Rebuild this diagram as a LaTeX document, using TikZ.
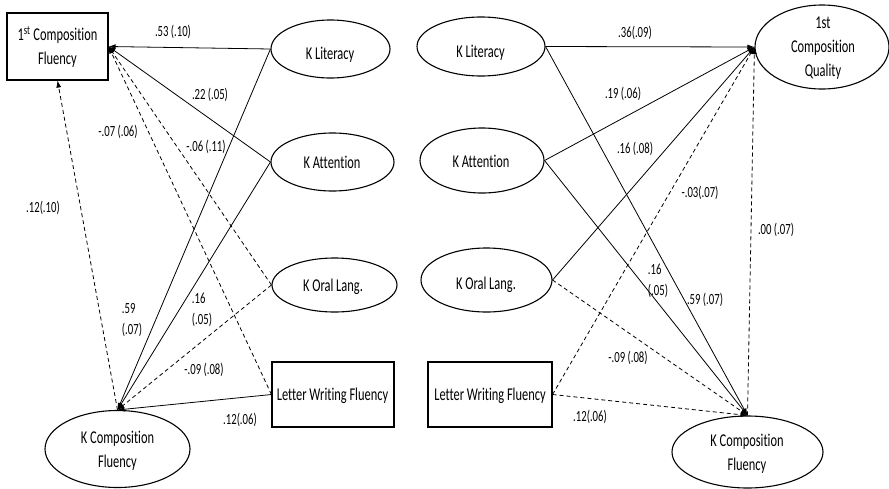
\documentclass[tikz,border=0pt]{standalone}
\usepackage{fontspec}
\setmainfont[FakeStretch=0.69,Ligatures=NoCommon]{Carlito}
\usetikzlibrary{shapes.geometric,arrows.meta}
\begin{document}
\begin{tikzpicture}[x=1pt,y=-1pt,
  ell/.style={draw,ellipse,line width=1.1pt,inner sep=0pt},
  rbox/.style={draw,rectangle,line width=1.1pt,inner sep=0pt},
  txt/.style={font=\fontsize{18}{24}\selectfont,align=center,inner sep=0pt},
  lbl/.style={font=\fontsize{15.5}{21}\selectfont,align=left,inner sep=0pt},
  con/.style={line width=0.8pt,-{Latex[length=7pt,width=5pt]}},
  dcon/.style={con,dash pattern=on 4pt off 3pt},
]
\useasboundingbox (0,0) rectangle (889,488);

% ---- left panel ----
\node[rbox,minimum width=101pt,minimum height=67pt] (cfL) at (57.5,46.5) {};
\node[txt] (cfLt) at (57.5,47) {1\textsuperscript{st} Composition\\Fluency};
\node[ell,minimum width=119pt,minimum height=58pt] (litL) at (330.5,49) {};
\node[txt] (litLt) at (330,55) {K Literacy};
\node[ell,minimum width=123pt,minimum height=58pt] (attL) at (332.5,162) {};
\node[txt] (attLt) at (332,162) {K Attention};
\node[ell,minimum width=125pt,minimum height=54pt] (oralL) at (334.5,285) {};
\node[txt] (oralLt) at (333,287) {K Oral Lang.};
\node[rbox,minimum width=122pt,minimum height=65pt] (lwfL) at (333,394.5) {};
\node[txt] (lwfLt) at (332.5,396) {Letter Writing Fluency};
\node[ell,minimum width=145pt,minimum height=77pt] (kcfL) at (117.5,449) {};
\node[txt] (kcfLt) at (117.5,451) {K Composition\\Fluency};

\draw[con] (litL.west) -- (cfL.east);
\draw[con] (attL.west) -- (cfL.east);
\draw[dcon] (oralL.west) -- (cfL.east);
\draw[dcon] (lwfL.west) -- (cfL.east);
\draw[con] (litL.west) -- (kcfL.north);
\draw[con] (attL.west) -- (kcfL.north);
\draw[dcon] (oralL.west) -- (kcfL.north);
\draw[con] (lwfL.west) -- (kcfL.north);
\draw[dcon] (kcfL.north) -- (cfL.south);

\node[lbl] (a1) at (173,32) {.53 (.10)};
\node[lbl] (a2) at (210,95) {.22 (.05)};
\node[lbl] (a3) at (118,132) {-.07 (.06)};
\node[lbl] (a4) at (206,147) {-.06 (.11)};
\node[lbl] (a5) at (43,208) {.12(.10)};
\node[lbl] (a6) at (132,320) {.59\\(.07)};
\node[lbl] (a7) at (202,310) {.16\\(.05)};
\node[lbl] (a8) at (204,370) {-.09 (.08)};
\node[lbl] (a9) at (240,420) {.12(.06)};

% ---- right panel ----
\node[ell,minimum width=134pt,minimum height=84pt] (cq) at (822,47) {};
\node[txt] (cqt) at (823,48) {1st\\Composition\\Quality};
\node[ell,minimum width=128pt,minimum height=59pt] (litR) at (481,46.5) {};
\node[txt] (litRt) at (480.5,53) {K Literacy};
\node[ell,minimum width=124pt,minimum height=65pt] (attR) at (482,160.5) {};
\node[txt] (attRt) at (481,161.5) {K Attention};
\node[ell,minimum width=131pt,minimum height=64pt] (oralR) at (486.5,280) {};
\node[txt] (oralRt) at (486,285) {K Oral Lang.};
\node[rbox,minimum width=124pt,minimum height=65pt] (lwfR) at (490,394.5) {};
\node[txt] (lwfRt) at (490,396) {Letter Writing Fluency};
\node[ell,minimum width=151pt,minimum height=72pt] (kcfR) at (747.5,452) {};
\node[txt] (kcfRt) at (747,454) {K Composition\\Fluency};

\draw[con] (litR.east) -- (cq.west);
\draw[con] (attR.east) -- (cq.west);
\draw[con] (oralR.east) -- (cq.west);
\draw[dcon] (lwfR.east) -- (cq.west);
\draw[dcon] (kcfR.north) -- (cq.west);
\draw[con] (litR.east) -- (kcfR.north);
\draw[con] (attR.east) -- (kcfR.north);
\draw[dcon] (oralR.east) -- (kcfR.north);
\draw[dcon] (lwfR.east) -- (kcfR.north);

\node[lbl] (b1) at (635,33) {.36(.09)};
\node[lbl] (b2) at (623,94) {.19 (.06)};
\node[lbl] (b3) at (635,149) {.16 (.08)};
\node[lbl] (b4) at (700,193) {-.03(.07)};
\node[lbl] (b5) at (776,230) {.00 (.07)};
\node[lbl] (b6) at (658,281) {.16\\(.05)};
\node[lbl] (b7) at (705,300) {.59 (.07)};
\node[lbl] (b8) at (628,358) {-.09 (.08)};
\node[lbl] (b9) at (590,417) {.12(.06)};
\end{tikzpicture}
\end{document}
